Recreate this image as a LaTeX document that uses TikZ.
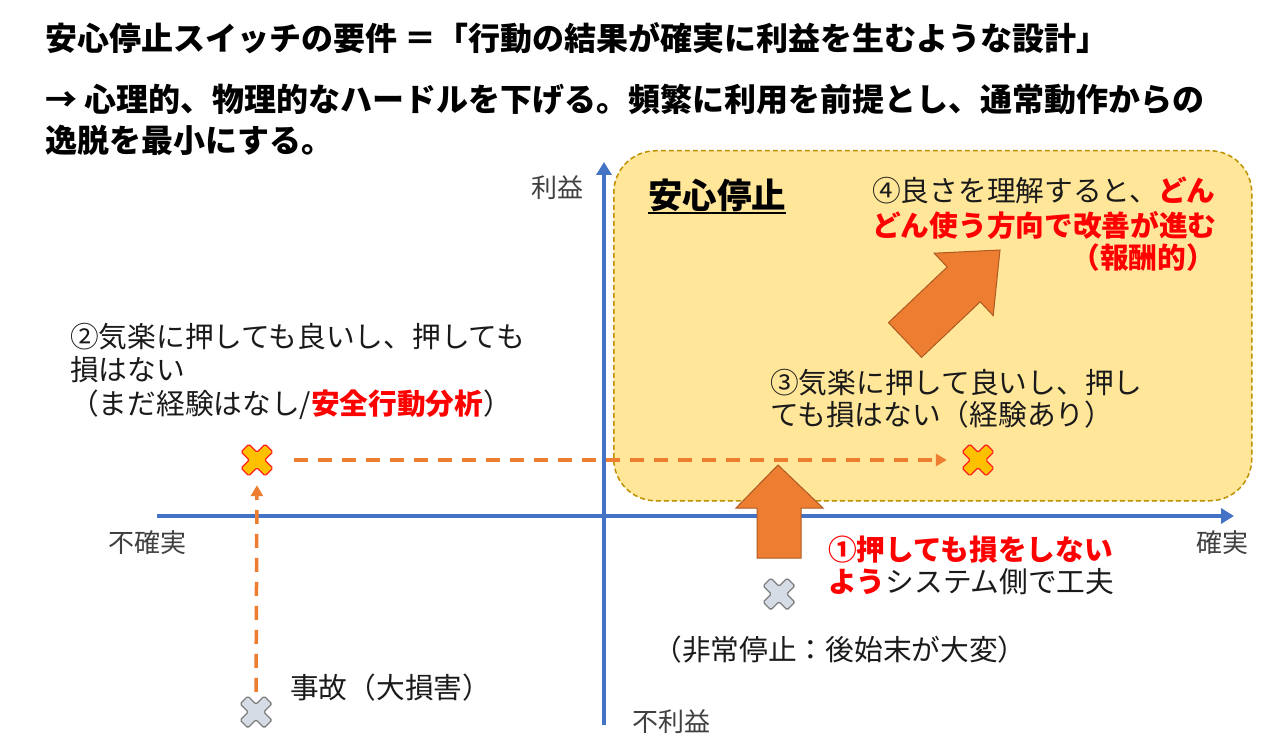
\documentclass[tikz,border=0pt]{standalone}
\usepackage{fontspec}
\setmainfont{Noto Sans CJK JP}
\usetikzlibrary{arrows.meta,calc}
\definecolor{axisblue}{HTML}{4472C4}
\definecolor{orng}{HTML}{ED7D31}
\definecolor{orngdark}{HTML}{AE5A21}
\definecolor{boxfill}{HTML}{FFE699}
\definecolor{boxline}{HTML}{BF9000}
\definecolor{xyellow}{HTML}{FFC000}
\definecolor{xred}{HTML}{FF2020}
\definecolor{xgray}{HTML}{D6DCE5}
\definecolor{xgrayline}{HTML}{7F7F7F}
\definecolor{bodytxt}{HTML}{1A1A1A}
\definecolor{axtxt}{HTML}{404040}
\definecolor{hired}{HTML}{FF0000}
\newcommand{\fsz}[1]{\fontsize{#1}{#1}\selectfont}
\begin{document}
\begin{tikzpicture}[x=1pt,y=-1pt,
  txt/.style={inner sep=0pt, text=bodytxt, font=\fsz{28.7}},
  ttl/.style={inner sep=0pt, text=black, font=\fsz{32}\bfseries, anchor=west},
  axlabel/.style={inner sep=0pt, text=axtxt, font=\fsz{26}},
  axisline/.style={draw=axisblue, line width=3.5pt, -{Triangle[length=13pt,width=15pt]}},
  dasharrow/.style={draw=orng, line width=3.5pt, dash pattern=on 14pt off 10pt, -{Triangle[length=11pt,width=12pt]}},
  blockarrow/.style={fill=orng, draw=orngdark, line width=1pt, line join=miter},
  xspot/.style={inner sep=0pt, minimum size=34pt},
  xyel/.style={fill=xyellow, draw=xred, line width=1.2pt},
  xgry/.style={fill=xgray, draw=xgrayline, line width=1.3pt},
  xmark/.pic={\path[pic actions, rounded corners=1.5pt, rotate=45]
     (5.5,5.5) -- (5.5,17) -- (-5.5,17) -- (-5.5,5.5) -- (-17,5.5) -- (-17,-5.5)
     -- (-5.5,-5.5) -- (-5.5,-17) -- (5.5,-17) -- (5.5,-5.5) -- (17,-5.5) -- (17,5.5) -- cycle;}
]
\useasboundingbox (0,0) rectangle (1274,746);
\fill[white] (0,0) rectangle (1274,746);

% title
\node[ttl] (title1) at (45,38) {安心停止スイッチの要件 ＝「行動の結果が確実に利益を生むような設計」};
\node[ttl] (title2) at (45,100) {→ 心理的、物理的なハードルを下げる。頻繁に利用を前提とし、通常動作からの};
\node[ttl] (title3) at (45,140) {逸脱を最小にする。};

% safe-stop region
\node[anchor=north west, minimum width=638pt, minimum height=350pt, inner sep=0pt,
      rounded corners=42pt, fill=boxfill, draw=boxline, line width=1.5pt,
      dash pattern=on 5pt off 3pt] (safe) at (613,150) {};

% axes
\coordinate (hl) at (157,516);
\coordinate (hr) at (1234,516);
\coordinate (vb) at (604,725);
\coordinate (vt) at (604,162);
\draw[axisline] (hl) -- (hr);
\draw[axisline] (vb) -- (vt);
\node[axlabel] (lbenefit) at (557,188) {利益};
\node[axlabel] (lloss) at (671,722) {不利益};
\node[axlabel] (luncert) at (147,543) {不確実};
\node[axlabel] (lcert) at (1222,543) {確実};

% safe stop title
\node[inner sep=0pt, text=black, font=\fsz{34.5}\bfseries] (anshin) at (717,195) {安心停止};
\draw[line width=2.5pt, black] ($(anshin.south west)+(0,1.5)$) -- ($(anshin.south east)+(0,1.5)$);

% X marks
\node[xspot] (x2) at (257,460) {};
\node[xspot] (x3) at (978,460) {};
\node[xspot] (x1) at (779,594) {};
\node[xspot] (x0) at (256,712) {};
\pic[xyel] at (x2) {xmark};
\pic[xyel] at (x3) {xmark};
\pic[xgry] at (x1) {xmark};
\pic[xgry] at (x0) {xmark};

% dashed arrows
\draw[dasharrow, shorten <=3pt, shorten >=8pt] (x0.north) -- (x2.south);
\draw[dasharrow, shorten <=20pt, shorten >=14pt] (x2.east) -- (x3.west);

% block arrow (1): upward
\draw[blockarrow] (757,558) -- (757,508) -- (736,508) -- (778,465) -- (823,508) -- (801,508) -- (801,558) -- cycle;
% block arrow (4): diagonal
\draw[blockarrow] (921.5,357.4) -- (888.5,322.6) -- (947.2,267.0) -- (934.2,253.2) -- (1000,250) -- (993.2,315.6) -- (980.2,301.8) -- cycle;

% texts (2)
\node[txt, anchor=west] (t2a) at (70,337) {②気楽に押しても良いし、押しても};
\node[txt, anchor=west] (t2b) at (70,370) {損はない};
\node[txt, anchor=west] (t2c) at (70,405) {（まだ経験はなし/{\color{hired}\bfseries 安全行動分析}）};

% texts (3)
\node[txt, anchor=west] (t3a) at (770,383) {③気楽に押して良いし、押し};
\node[txt, anchor=west] (t3b) at (770,415) {ても損はない（経験あり）};

% texts (4)
\node[txt, anchor=west] (t4a) at (872,190) {④良さを理解すると、{\color{hired}\bfseries どん}};
\node[txt, anchor=west, text=hired, font=\fsz{28.7}\bfseries] (t4b) at (872,225) {どん使う方向で改善が進む};
\node[txt, anchor=east, text=hired, font=\fsz{28.7}\bfseries] (t4c) at (1215,258) {（報酬的）};

% texts (1)
\node[txt, anchor=west, text=hired, font=\fsz{28.7}\bfseries] (t1a) at (828,550) {①押しても損をしない};
\node[txt, anchor=west] (t1b) at (828,582) {{\color{hired}\bfseries よう}システム側で工夫};

% other texts
\node[txt] (temerg) at (840,650) {（非常停止：後始末が大変）};
\node[txt, anchor=west] (tacc) at (290,688) {事故（大損害）};
\end{tikzpicture}
\end{document}
